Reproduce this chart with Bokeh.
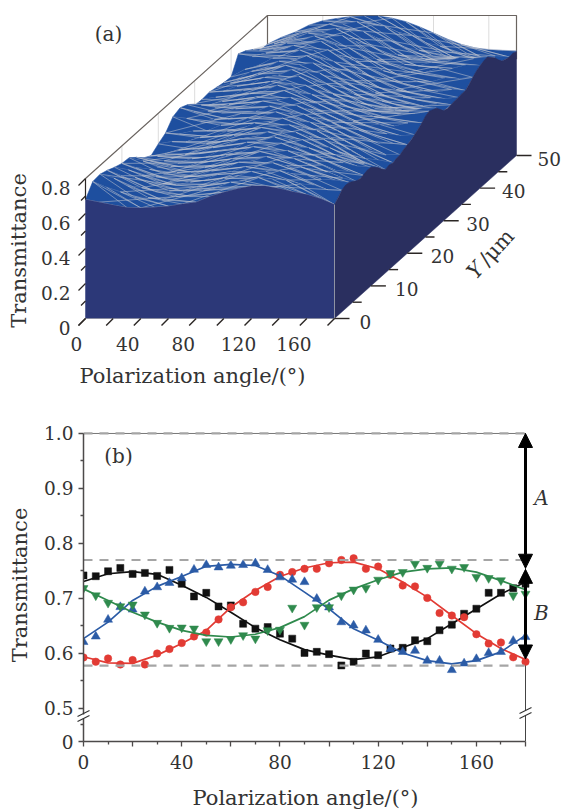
from bokeh.plotting import figure
from bokeh.models import Range1d, FixedTicker, Label, BoxAnnotation, Arrow, NormalHead
from bokeh.core.properties import value
from bokeh.embed import file_html
from bokeh.resources import INLINE

SERIF = "DejaVu Serif"

# ---------- panel (a) data: transmittance surface, thousandths, columns = angle_cols
angle_cols = [0, 10, 20, 30, 40, 50, 60, 70, 80, 90, 100, 110, 120, 130, 140, 150, 160, 170, 180]
z_y00 = [680, 665, 648, 634, 632, 636, 642, 654, 665, 697, 722, 742, 757, 757, 743, 724, 708, 685, 651]
z_y02 = [745, 712, 686, 656, 654, 641, 659, 662, 694, 711, 741, 749, 768, 758, 752, 731, 724, 696, 695]
z_y04 = [750, 727, 684, 673, 650, 655, 653, 677, 693, 727, 741, 765, 766, 770, 748, 743, 720, 716, 703]
z_y06 = [735, 705, 694, 659, 658, 649, 668, 675, 711, 727, 756, 763, 777, 759, 754, 726, 722, 690, 672]
z_y08 = [715, 700, 666, 661, 642, 658, 662, 694, 706, 744, 750, 776, 764, 764, 736, 728, 696, 690, 668]
z_y10 = [700, 676, 666, 639, 648, 649, 678, 689, 726, 736, 768, 764, 772, 746, 741, 710, 704, 684, 678]
z_y12 = [695, 676, 642, 646, 638, 666, 674, 711, 724, 758, 762, 778, 756, 751, 716, 706, 666, 661, 640]
z_y14 = [660, 639, 640, 626, 652, 659, 696, 709, 746, 752, 776, 762, 761, 729, 714, 669, 646, 604, 590]
z_y16 = [620, 628, 620, 640, 644, 678, 692, 728, 739, 768, 762, 766, 739, 726, 684, 661, 616, 606, 592]
z_y18 = [595, 604, 628, 632, 664, 674, 712, 724, 756, 760, 771, 746, 738, 699, 681, 639, 626, 599, 600]
z_y20 = [625, 638, 636, 661, 666, 698, 709, 744, 750, 772, 754, 748, 712, 698, 659, 651, 624, 628, 620]
z_y22 = [650, 644, 661, 662, 694, 702, 736, 744, 770, 759, 758, 724, 711, 676, 666, 642, 646, 634, 640]
z_y24 = [705, 696, 676, 691, 692, 726, 736, 766, 764, 768, 739, 726, 689, 681, 654, 661, 652, 670, 670]
z_y26 = [720, 698, 701, 689, 714, 724, 758, 762, 778, 752, 741, 704, 694, 666, 670, 662, 684, 684, 700]
z_y28 = [700, 698, 682, 702, 709, 744, 754, 781, 766, 758, 720, 706, 672, 668, 652, 666, 659, 678, 680]
z_y30 = [660, 659, 681, 689, 726, 739, 774, 774, 774, 739, 722, 682, 671, 642, 646, 630, 638, 626, 630]
z_y32 = [655, 668, 672, 708, 722, 758, 769, 788, 759, 744, 702, 686, 650, 646, 624, 631, 616, 630, 625]
z_y34 = [660, 664, 694, 706, 744, 756, 788, 776, 768, 726, 706, 666, 656, 629, 632, 616, 628, 622, 630]
z_y36 = [650, 674, 686, 726, 742, 776, 779, 788, 752, 732, 689, 671, 639, 638, 620, 632, 624, 638, 632]
z_y38 = [640, 662, 704, 722, 762, 770, 794, 776, 758, 714, 696, 656, 654, 634, 648, 644, 666, 662, 670]
z_y40 = [635, 678, 699, 742, 756, 788, 786, 790, 746, 724, 680, 671, 649, 661, 659, 686, 684, 704, 700]
z_y42 = [730, 714, 734, 744, 778, 782, 800, 780, 764, 716, 698, 666, 670, 660, 682, 684, 708, 702, 712]
z_y44 = [710, 714, 716, 754, 766, 794, 789, 796, 760, 738, 696, 686, 658, 660, 646, 666, 659, 674, 670]
z_y46 = [680, 684, 718, 738, 774, 779, 800, 786, 782, 744, 728, 689, 676, 642, 638, 616, 622, 609, 615]
z_y48 = [640, 674, 694, 742, 758, 788, 787, 801, 780, 774, 739, 722, 680, 662, 624, 618, 598, 606, 600]
z_y50 = [636, 675, 705, 745, 770, 783, 793, 797, 797, 785, 765, 735, 700, 665, 635, 615, 604, 600, 597]
surface_rows = [z_y00, z_y02, z_y04, z_y06, z_y08, z_y10, z_y12, z_y14, z_y16, z_y18, z_y20, z_y22, z_y24,
                z_y26, z_y28, z_y30, z_y32, z_y34, z_y36, z_y38, z_y40, z_y42, z_y44, z_y46, z_y48, z_y50]
row_y = [0, 2, 4, 6, 8, 10, 12, 14, 16, 18, 20, 22, 24, 26, 28, 30, 32, 34, 36, 38, 40, 42, 44, 46, 48, 50]
right_edge_z = [651, 672, 695, 705, 703, 690, 675, 668, 672, 680, 678, 660, 640, 612, 590, 598, 590, 598, 600, 612,
                620, 628, 640, 655, 670, 690, 700, 690, 680, 655, 630, 622, 625, 628, 630, 632, 632, 650, 670, 688,
                700, 708, 712, 690, 670, 640, 615, 606, 600, 603, 594]
a_x_ticks = [0, 20, 40, 60, 80, 100, 120, 140, 160, 180]
a_x_labels = [0, 40, 80, 120, 160]
a_z_ticks = [0, 0.1, 0.2, 0.3, 0.4, 0.5, 0.6, 0.7, 0.8]
a_z_labels = [("0", 0), ("0.2", 0.2), ("0.4", 0.4), ("0.6", 0.6), ("0.8", 0.8)]
a_y_ticks = [0, 5, 10, 15, 20, 25, 30, 35, 40, 45, 50]
a_y_labels = [0, 10, 20, 30, 40, 50]

# ---------- panel (b) data
angle_pts = [0, 5, 10, 15, 20, 25, 30, 35, 40, 45, 50, 55, 60, 65, 70, 75, 80, 85, 90, 95, 100, 105, 110, 115,
             120, 125, 130, 135, 140, 145, 150, 155, 160, 165, 170, 175, 180]
black_pts = [.742, .7405, .7495, .7555, .7447, .7465, .741, .752, .7266, .7037, .7103, .6856, .6874, .654, .6452,
             .648, .636, .627, .601, .603, .5988, .5783, .5849, .600, .597, .609, .6103, .6241, .6223, .6422,
             .6524, .6723, .6814, .7103, .7103, .7188, .7266]
red_pts = [.5928, .585, .591, .580, .588, .580, .600, .608, .619, .631, .638, .662, .684, .693, .712, .721, .743,
           .748, .754, .754, .764, .770, .773, .754, .758, .743, .7236, .722, .701, .6735, .669, .666, .635, .618,
           .620, .593, .585]
blue_pts = [.621, .631, .6615, .6845, .680, .7128, .7206, .7284, .737, .7525, .761, .7567, .7597, .761, .764, .752,
            .7386, .7344, .730, .6995, .684, .657, .651, .642, .625, .608, .603, .605, .587, .587, .570, .582, .590,
            .601, .603, .623, .630]
green_pts = [.7187, .7055, .692, .6857, .6887, .6706, .6555, .6464, .647, .6452, .622, .622, .626, .633, .627, .642,
             .643, .683, .652, .684, .684, .7055, .716, .719, .734, .746, .748, .763, .7555, .763, .754, .757, .739,
             .737, .733, .7055, .7085]
angle_fit = [0, 10, 20, 30, 40, 50, 60, 70, 80, 90, 100, 110, 120, 130, 140, 150, 160, 170, 180]
black_fit = [.731, .745, .749, .744, .724, .702, .675, .647, .625, .607, .597, .589, .594, .611, .627, .654, .681, .708, .730]
red_fit = [.594, .583, .582, .597, .618, .642, .684, .7145, .740, .7555, .765, .766, .754, .730, .7025, .669, .636, .609, .589]
blue_fit = [.627, .657, .6965, .722, .740, .7585, .762, .760, .7415, .7115, .681, .645, .624, .601, .587, .581, .587, .603, .633]
green_fit = [.7175, .6965, .675, .657, .642, .633, .630, .635, .647, .667, .697, .7175, .734, .748, .754, .7555, .748, .7325, .716]
dash_levels = [1.0, 0.77, 0.578]
b_x_major = [0, 20, 40, 60, 80, 100, 120, 140, 160, 180]
b_x_minor = [10, 30, 50, 70, 90, 110, 130, 150, 170]
b_y_major = [0.44, 0.5, 0.6, 0.7, 0.8, 0.9, 1.0]
b_y_minor = [0.47, 0.55, 0.65, 0.75, 0.85, 0.95]
arrow_A = (1.0, 0.755)
arrow_B = (0.753, 0.59)

# ---------- panel (a): oblique projection in page pixels
OX, OY = 85.0, 318.0
XP, YPX, YPY, ZP = 249.0 / 180, 182.0 / 50, 163.0 / 50, 175.0


def sx(a, y):
    return OX + a * XP + y * YPX


def sy(y, z):
    return OY - y * YPY - z * ZP


a = figure(width=561, height=400, x_range=Range1d(0, 561), y_range=Range1d(400, 0),
           output_backend="svg", toolbar_location=None, min_border=0,
           x_axis_location=None, y_axis_location=None)
a.grid.visible = False
a.outline_line_color = None

BLUE, FRONT, SIDE, MESH = "#1e4f9f", "#2c3878", "#2a2f5f", "#c2c5cf"
FRAME = "#6a6460"

for yy in [10, 20, 30, 40]:
    a.line([sx(0, yy)] * 2, [sy(yy, 0.55), sy(yy, 0.8)], line_color="#dcdcdc", line_width=1)
for aa in [40, 80, 120, 160]:
    a.line([sx(aa, 50)] * 2, [sy(50, 0.55), sy(50, 0.8)], line_color="#dcdcdc", line_width=1)
a.line([sx(0, 0), sx(0, 50), sx(180, 50), sx(180, 50)],
       [sy(0, 0.8), sy(50, 0.8), sy(50, 0.8), sy(50, 0.55)], line_color=FRAME, line_width=1.2)
a.line([sx(0, 50)] * 2, [sy(50, 0.8), sy(50, 0.6)], line_color=FRAME, line_width=1.2)

n = len(angle_cols)
for i in range(len(row_y) - 2, -1, -1):
    back, front = surface_rows[i + 1], surface_rows[i]
    yb, yf = row_y[i + 1], row_y[i]
    xs = [sx(angle_cols[j], yf) for j in range(n)] + [sx(angle_cols[j], yb) for j in range(n - 1, -1, -1)]
    ys = [sy(yf, front[j] / 1000) for j in range(n)] + [sy(yb, back[j] / 1000) for j in range(n - 1, -1, -1)]
    a.patch(xs, ys, fill_color=BLUE, line_color=BLUE, line_width=0.6)
    mx, my = [], []
    mx.append([sx(angle_cols[j], yf) for j in range(n)])
    my.append([sy(yf, front[j] / 1000) for j in range(n)])
    for j in range(0, n - 3, 1):
        mx.append([sx(angle_cols[j], yb), sx(angle_cols[j + 3], yf)])
        my.append([sy(yb, back[j] / 1000), sy(yf, front[j + 3] / 1000)])
    for j in range(i % 2, n - 4, 2):
        mx.append([sx(angle_cols[j], yb), sx(angle_cols[j + 4], yf)])
        my.append([sy(yb, back[j] / 1000), sy(yf, front[j + 4] / 1000)])
    for j in range((i + 1) % 3, n - 5, 3):
        mx.append([sx(angle_cols[j], yf), sx(angle_cols[j + 5], yb)])
        my.append([sy(yf, front[j] / 1000), sy(yb, back[j + 5] / 1000)])
    a.multi_line(mx, my, line_color=MESH, line_width=0.6, line_alpha=0.9)

a.patch([sx(ang, 0) for ang in angle_cols] + [sx(180, 0), sx(0, 0)],
        [sy(0, v / 1000) for v in z_y00] + [sy(0, 0), sy(0, 0)],
        fill_color=FRONT, line_color=FRONT, line_width=0.5)
edge_y = list(range(len(right_edge_z)))
a.patch([sx(180, yy) for yy in edge_y] + [sx(180, 50), sx(180, 0)],
        [sy(yy, v / 1000) for yy, v in zip(edge_y, right_edge_z)] + [sy(50, 0), sy(0, 0)],
        fill_color=SIDE, line_color=SIDE, line_width=0.5)
a.line([sx(180, 0)] * 2, [sy(0, 0), sy(0, z_y00[-1] / 1000)], line_color="#8f93a3", line_width=1)
a.line([sx(0, 0), sx(180, 0)], [sy(0, 0)] * 2, line_color="#8f93a3", line_width=0.8)

INK = "#2b2624"
a.line([sx(0, 0)] * 2, [sy(0, z_y00[0] / 1000), sy(0, 0.8)], line_color=INK, line_width=1.2)
for t in a_x_ticks:
    a.line([sx(t, 0), sx(t, 0) - 7], [sy(0, 0), sy(0, 0) + 7], line_color=INK, line_width=1.4)
for t in a_z_ticks:
    s = 7 if round(t * 10) % 2 == 0 else 4.5
    a.line([sx(0, 0), sx(0, 0) - s], [sy(0, t), sy(0, t) + s], line_color=INK, line_width=1.3)
for t in a_y_ticks:
    s = 15 if t % 10 == 0 else 9
    a.line([sx(180, t), sx(180, t) + s], [sy(t, 0)] * 2, line_color=INK, line_width=1.4)

FS = "18.5px"
FT = "21px"
TXT = "#333333"


def txt(fig, x, y, s, align="center", base="middle", angle=0, style="normal", size=FS):
    fig.text([x], [y], text=[s], text_align=align, text_baseline=base, angle=angle, angle_units="deg",
             text_font=value(SERIF), text_font_size=size, text_color=TXT, text_font_style=style)


for t in a_x_labels:
    txt(a, sx(t, 0) - (9 if t == 0 else 13), 343, str(t))
for s, t in a_z_labels:
    txt(a, 70, sy(0, t) + 9, s, align="right")
for t in a_y_labels:
    txt(a, sx(180, t) + 25 - t * 0.08, sy(t, 0) + 3, str(t), align="left")
txt(a, 108, 33, "(a)", size="20px")
txt(a, 192, 375, "Polarization angle/(°)", size=FT)
txt(a, 18, 250, "Transmittance", angle=90, size=FT)
txt(a, 475, 270, "Y", angle=48, style="italic", size=FT)
txt(a, 496, 247, "/μm", angle=48, size=FT)

# ---------- panel (b): the frame runs past x = 180 so that arrowheads and the A, B labels stay whole
PX_X = (525 - 83) / 180.0
PX_Y = 553.0
PAD_X, PAD_Y = 36 / PX_X, 5 / PX_Y
b = figure(width=561, height=412, x_range=Range1d(0, 180 + PAD_X), y_range=Range1d(0.44, 1.0 + PAD_Y),
           output_backend="svg", toolbar_location=None,
           min_border_left=83, min_border_right=0, min_border_top=28, min_border_bottom=71,
           y_axis_label="Transmittance")
b.grid.visible = False
b.outline_line_color = None
AX = "#4d4a4a"
for ax in (b.xaxis[0], b.yaxis[0]):
    ax.axis_line_color = AX
    ax.axis_line_width = 1.5
    ax.major_tick_line_color = AX
    ax.minor_tick_line_color = AX
    ax.major_tick_line_width = 1.3
    ax.minor_tick_line_width = 1.3
    ax.major_tick_in = 0
    ax.minor_tick_in = 0
    ax.major_tick_out = 5
    ax.minor_tick_out = 3
    ax.major_label_text_font = SERIF
    ax.major_label_text_font_size = FS
    ax.major_label_text_color = TXT
    ax.axis_label_text_font = SERIF
    ax.axis_label_text_font_size = FT
    ax.axis_label_text_font_style = "normal"
    ax.axis_label_text_color = TXT
b.xaxis[0].ticker = FixedTicker(ticks=b_x_major, minor_ticks=b_x_minor)
b.xaxis[0].major_label_overrides = {20: "", 60: "", 100: "", 140: "", 180: ""}
b.xaxis[0].major_label_standoff = 8
b.xaxis[0].bounds = (0, 180)
b.yaxis[0].ticker = FixedTicker(ticks=b_y_major, minor_ticks=b_y_minor)
b.yaxis[0].major_label_overrides = {0.44: "0", 0.5: "0.5", 0.6: "0.6", 0.7: "0.7", 0.8: "0.8", 0.9: "0.9", 1.0: "1.0"}
b.yaxis[0].major_label_standoff = 5
b.yaxis[0].axis_label_standoff = 9
b.yaxis[0].bounds = (0.44, 1.0)

b.line([180, 180], [0.44, 1.0], line_color="#444444", line_width=1)
b.line([0, 180], [1.0, 1.0], line_color="#777777", line_width=1)

series = [(black_pts, black_fit, "#111111", "square", 7),
          (red_pts, red_fit, "#e23b34", "circle", 7.5),
          (blue_pts, blue_fit, "#2b5ba6", "triangle", 9),
          (green_pts, green_fit, "#2f8a4d", "inverted_triangle", 9)]
for pts, fit, col, mk, sz in series:
    b.line(angle_fit, fit, line_color=col, line_width=1.7)
    b.scatter(angle_pts, pts, marker=mk, size=sz, fill_color=col, line_color=col, line_width=0.5)

for lv in dash_levels:
    b.line([0, 180], [lv, lv], line_color="#a5a5a5", line_width=2.2, line_dash="9 7")

for top, bot in (arrow_A, arrow_B):
    b.add_layout(Arrow(x_start=180, x_end=180, y_start=bot, y_end=top, line_color="black", line_width=3,
                       start=NormalHead(size=14, fill_color="black", line_color="black", line_width=1),
                       end=NormalHead(size=14, fill_color="black", line_color="black", line_width=1)))

# right break
b.add_layout(BoxAnnotation(left=180 - 2.4, right=180 + 2.4, bottom=0.5 - 7 / PX_Y, top=0.5 - 2 / PX_Y,
                           fill_color="white", fill_alpha=1, line_color=None))
for off in (2, 7):
    b.add_layout(Arrow(x_start=180 - 6 / PX_X, x_end=180 + 6 / PX_X,
                       y_start=0.5 - (off + 3) / PX_Y, y_end=0.5 - (off - 3) / PX_Y,
                       line_color="#333333", line_width=1.2, end=None))

for s, xv, yv, st in [("(b)", 14.25, 0.9586, "normal"), ("A", 186.5, 0.883, "italic"), ("B", 186.5, 0.673, "italic")]:
    b.add_layout(Label(x=xv, y=yv, text=s, text_font=SERIF, text_font_size="20px", text_color=TXT,
                       text_font_style=st, text_align="center", text_baseline="middle"))

# left break sits outside panel (b)'s frame, so it gets a small transparent figure of its own
c = figure(width=16, height=18, x_range=Range1d(-8, 8), y_range=Range1d(9, -9),
           output_backend="svg", toolbar_location=None, min_border=0,
           x_axis_location=None, y_axis_location=None, background_fill_alpha=0, border_fill_alpha=0,
           styles={"position": "absolute", "left": "75px", "top": "704px"})
c.grid.visible = False
c.outline_line_color = None
c.line([0, 0], [1, 5], line_color="white", line_width=3)
for off in (0, 5):
    c.line([-6, 6], [off + 3, off - 3], line_color="#333333", line_width=1.2)

# x title of panel (b), centred on the axis rather than on the wider frame
d = figure(width=300, height=30, x_range=Range1d(-150, 150), y_range=Range1d(15, -15),
           output_backend="svg", toolbar_location=None, min_border=0,
           x_axis_location=None, y_axis_location=None, background_fill_alpha=0, border_fill_alpha=0,
           styles={"position": "absolute", "left": "155px", "top": "782px"})
d.grid.visible = False
d.outline_line_color = None
txt(d, 0, 0, "Polarization angle/(°)", size=FT)

open("out.html", "w").write(file_html([a, b, c, d], INLINE))
